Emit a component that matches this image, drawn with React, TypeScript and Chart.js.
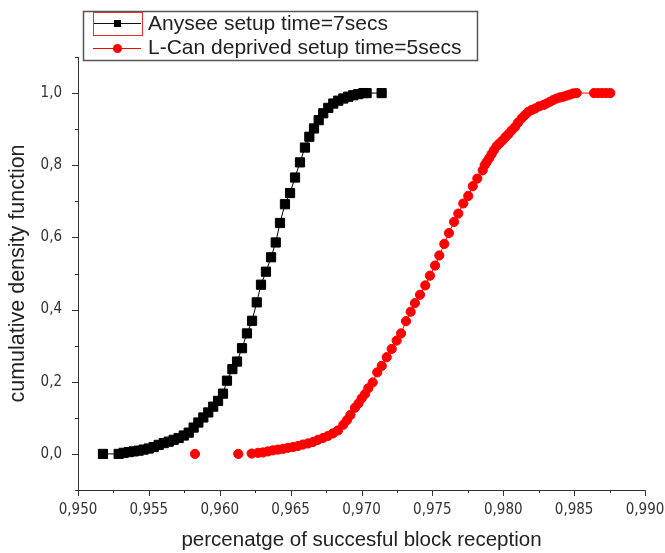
import React, { useEffect, useRef } from 'react';
import { Chart, registerables } from 'chart.js';

Chart.register(...registerables);

const seriesNames = ['Anysee setup time=7secs', 'L-Can deprived setup time=5secs'];
const xTitle = 'percenatge of succesful block reception';
const yTitle = 'cumulative density function';

const blackX = [
  0.95176, 0.95287, 0.95322, 0.95358, 0.95393, 0.95428, 0.95463, 0.95499, 0.95534, 0.95569,
  0.95605, 0.9564, 0.95675, 0.9571, 0.95746, 0.95781, 0.95816, 0.95849, 0.95884, 0.95919,
  0.95954, 0.95988, 0.96023, 0.96051, 0.96089, 0.96122, 0.96157, 0.96192, 0.96228, 0.96261,
  0.96291, 0.96326, 0.96362, 0.96395, 0.96425, 0.9646, 0.96496, 0.96531, 0.96566, 0.96601,
  0.96632, 0.96665, 0.96698, 0.9673, 0.96766, 0.96801, 0.96836, 0.96872, 0.96907, 0.96942,
  0.96977, 0.97013, 0.97036, 0.97142,
];
const blackY = [
  0.0, 0.0, 0.003, 0.005, 0.007, 0.009, 0.012, 0.015, 0.019, 0.025,
  0.03, 0.034, 0.039, 0.044, 0.051, 0.059, 0.073, 0.087, 0.101, 0.115,
  0.131, 0.147, 0.167, 0.203, 0.235, 0.256, 0.293, 0.334, 0.369, 0.42,
  0.469, 0.505, 0.545, 0.586, 0.64, 0.692, 0.723, 0.766, 0.808, 0.849,
  0.879, 0.902, 0.925, 0.944, 0.959, 0.971, 0.979, 0.985, 0.99, 0.994,
  0.997, 1.0, 1.0, 1.0,
];

const redX = [
  0.95825, 0.96131, 0.96225, 0.9627, 0.96305, 0.9634, 0.96376, 0.96411, 0.96446, 0.96481,
  0.96517, 0.96552, 0.96587, 0.96623, 0.96658, 0.96693, 0.96728, 0.96764, 0.96799, 0.96834,
  0.96872, 0.96898, 0.96922, 0.96954, 0.96979, 0.97001, 0.97025, 0.97048, 0.97079, 0.97111,
  0.97143, 0.97178, 0.97213, 0.97248, 0.97279, 0.97314, 0.97347, 0.97377, 0.97413, 0.9745,
  0.97483, 0.97519, 0.97549, 0.97584, 0.97617, 0.97653, 0.97683, 0.97718, 0.97753, 0.97785,
  0.97817, 0.97855, 0.97869, 0.97883, 0.979, 0.97918, 0.97935, 0.97954, 0.97974, 0.97996,
  0.98016, 0.98036, 0.98058, 0.98083, 0.98104, 0.9813, 0.98153, 0.98177, 0.98199, 0.98224,
  0.98252, 0.98283, 0.98305, 0.9833, 0.98353, 0.98377, 0.984, 0.98424, 0.98448, 0.98471,
  0.98494, 0.98518, 0.9864, 0.98669, 0.98698, 0.98726, 0.98755,
];
const redY = [
  0.0, 0.0, 0.001, 0.003, 0.004, 0.007, 0.01, 0.012, 0.014, 0.017,
  0.019, 0.022, 0.026, 0.029, 0.033, 0.039, 0.044, 0.05, 0.057, 0.065,
  0.081, 0.094, 0.108, 0.128, 0.14, 0.154, 0.166, 0.182, 0.198, 0.226,
  0.244, 0.268, 0.291, 0.314, 0.334, 0.368, 0.394, 0.418, 0.441, 0.467,
  0.494, 0.522, 0.55, 0.582, 0.612, 0.643, 0.666, 0.694, 0.715, 0.742,
  0.763, 0.786, 0.8, 0.809, 0.819, 0.831, 0.842, 0.853, 0.861, 0.869,
  0.878, 0.886, 0.896, 0.906, 0.918, 0.93, 0.939, 0.948, 0.953, 0.957,
  0.963, 0.967, 0.971, 0.976, 0.981, 0.985, 0.988, 0.99, 0.993, 0.996,
  0.999, 1.0, 1.0, 1.0, 1.0, 1.0, 1.0,
];

const xTicks = [0.95, 0.955, 0.96, 0.965, 0.97, 0.975, 0.98, 0.985, 0.99];
const xMinorTicks = [0.9525, 0.9575, 0.9625, 0.9675, 0.9725, 0.9775, 0.9825, 0.9875];
const yTicks = [0.0, 0.2, 0.4, 0.6, 0.8, 1.0];
const yMinorTicks = [-0.1, 0.1, 0.3, 0.5, 0.7, 0.9, 1.1];

const FONT = '"Liberation Sans", Arial, sans-serif';
const NARROW = '"Liberation Sans Narrow", "DejaVu Sans Condensed", "Liberation Sans", sans-serif';

const tickPlugin = {
  id: 'originTicks',
  afterDraw(chart: any) {
    const ctx = chart.ctx;
    const xs = chart.scales.x;
    const ys = chart.scales.y;
    const area = chart.chartArea;
    ctx.save();
    ctx.strokeStyle = '#333';
    ctx.lineWidth = 1;
    ctx.beginPath();
    xTicks.forEach((v) => {
      const px = Math.round(xs.getPixelForValue(v)) + 0.5;
      ctx.moveTo(px, area.bottom);
      ctx.lineTo(px, area.bottom + 6);
    });
    xMinorTicks.forEach((v) => {
      const px = Math.round(xs.getPixelForValue(v)) + 0.5;
      ctx.moveTo(px, area.bottom);
      ctx.lineTo(px, area.bottom + 3);
    });
    yTicks.forEach((v) => {
      const py = Math.round(ys.getPixelForValue(v)) + 0.5;
      ctx.moveTo(area.left, py);
      ctx.lineTo(area.left - 6, py);
    });
    yMinorTicks.forEach((v) => {
      const py = Math.round(ys.getPixelForValue(v)) + 0.5;
      ctx.moveTo(area.left, py);
      ctx.lineTo(area.left - 3, py);
    });
    ctx.stroke();

    // legend
    ctx.strokeStyle = '#555';
    ctx.lineWidth = 1.5;
    ctx.strokeRect(83.5, 11.5, 394, 49);
    ctx.strokeStyle = '#e83030';
    ctx.lineWidth = 1;
    ctx.strokeRect(93.5, 12.5, 49, 23);

    ctx.strokeStyle = '#111';
    ctx.lineWidth = 1;
    ctx.beginPath();
    ctx.moveTo(94, 23.5);
    ctx.lineTo(141, 23.5);
    ctx.stroke();
    ctx.fillStyle = '#000';
    ctx.fillRect(114, 20, 7, 7);

    ctx.strokeStyle = '#ff0000';
    ctx.beginPath();
    ctx.moveTo(93, 48.5);
    ctx.lineTo(141, 48.5);
    ctx.stroke();
    ctx.fillStyle = '#ff0000';
    ctx.beginPath();
    ctx.arc(117.5, 48.5, 4.5, 0, Math.PI * 2);
    ctx.fill();

    ctx.fillStyle = '#222';
    ctx.font = '21px ' + FONT;
    ctx.textBaseline = 'middle';
    ctx.textAlign = 'left';
    ctx.fillText(seriesNames[0], 148, 24);
    ctx.fillText(seriesNames[1], 148, 48);
    ctx.restore();
  },
};

export default function App() {
  const ref = useRef<HTMLCanvasElement | null>(null);

  useEffect(() => {
    if (!ref.current) return;
    const chart = new Chart(ref.current, {
      type: 'line',
      data: {
        datasets: [
          {
            label: seriesNames[0],
            data: blackX.map((x, i) => ({ x, y: blackY[i] })),
            borderColor: '#000',
            backgroundColor: '#000',
            borderWidth: 1,
            pointStyle: 'rect',
            pointRadius: 6.5,
            pointBorderWidth: 1,
            pointBackgroundColor: '#000',
            pointBorderColor: '#000',
            tension: 0,
            fill: false,
          },
          {
            label: seriesNames[1],
            data: redX.map((x, i) => ({ x, y: redY[i] })),
            borderColor: '#ff0000',
            backgroundColor: '#ff0000',
            borderWidth: 1,
            pointStyle: 'circle',
            pointRadius: 4.6,
            pointBorderWidth: 1,
            pointBackgroundColor: '#ff0000',
            pointBorderColor: '#ff0000',
            tension: 0,
            fill: false,
            segment: {
              borderColor: (c: any) => (c.p0DataIndex < 2 ? 'rgba(0,0,0,0)' : '#ff0000'),
            },
          },
        ],
      },
      options: {
        animation: false,
        responsive: false,
        maintainAspectRatio: false,
        layout: { padding: { left: 0, top: 57, right: 20, bottom: 0 } },
        plugins: {
          legend: { display: false },
          tooltip: { enabled: false },
        },
        scales: {
          x: {
            type: 'linear',
            min: 0.95,
            max: 0.99,
            afterBuildTicks: (s: any) => {
              s.ticks = xTicks.map((v) => ({ value: v }));
            },
            afterFit: (s: any) => {
              s.height = 63;
              s.paddingLeft = 0;
              s.paddingRight = 0;
            },
            grid: { display: false },
            border: { display: true, color: '#333', width: 1 },
            ticks: {
              padding: 3,
              color: '#333',
              autoSkip: false,
              maxRotation: 0,
              font: { family: NARROW, size: 15 },
              callback: (v: any) => Number(v).toFixed(3).replace('.', ','),
            },
            title: {
              display: true,
              text: xTitle,
              color: '#222',
              font: { family: FONT, size: 20.5 },
              padding: { top: 0, bottom: 0 },
            },
          },
          y: {
            type: 'linear',
            min: -0.1,
            max: 1.1,
            afterBuildTicks: (s: any) => {
              s.ticks = yTicks.map((v) => ({ value: v }));
            },
            afterFit: (s: any) => {
              s.width = 78;
            },
            grid: { display: false },
            border: { display: true, color: '#333', width: 1 },
            ticks: {
              padding: 8,
              color: '#333',
              font: { family: NARROW, size: 15 },
              callback: (v: any) => Number(v).toFixed(1).replace('.', ','),
            },
            title: {
              display: true,
              text: yTitle,
              color: '#222',
              font: { family: FONT, size: 21.5 },
              padding: { top: 5, bottom: 0 },
            },
          },
        },
      },
      plugins: [tickPlugin],
    });
    return () => chart.destroy();
  }, []);

  return (
    <div style={{ position: 'fixed', left: 0, top: 0, width: 665, height: 553, background: '#fff' }}>
      <canvas ref={ref} width={665} height={553} style={{ width: 665, height: 553 }} />
    </div>
  );
}
